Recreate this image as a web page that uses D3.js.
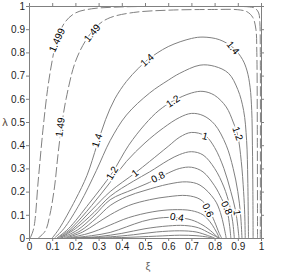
<!DOCTYPE html>
<html>
<head>
<meta charset="utf-8">
<script src="https://cdn.jsdelivr.net/npm/d3@7"></script>
<style>
  body { margin: 0; background: #fff; }
  text { font-family: "Liberation Sans", Arial, sans-serif; }
</style>
</head>
<body>
<svg id="chart" width="294" height="273"></svg>
<script>
// tick values of both axes
const xTicks = [0, 0.1, 0.2, 0.3, 0.4, 0.5, 0.6, 0.7, 0.8, 0.9, 1];
const yTicks = [0, 0.1, 0.2, 0.3, 0.4, 0.5, 0.6, 0.7, 0.8, 0.9, 1];

// contour levels, one traced line per level ([xi, lambda] pairs)
const levels = [0.1, 0.2, 0.3, 0.4, 0.5, 0.6, 0.7, 0.8, 0.9, 1, 1.1, 1.2, 1.3, 1.4, 1.49, 1.499];

const c010 = [[0.21,0],[0.4,0.002],[0.55,0.008],[0.65,0.012],[0.72,0.01],[0.77,0.004],[0.79,0]];
const c020 = [[0.2,0],[0.35,0.005],[0.45,0.014],[0.55,0.026],[0.65,0.031],[0.72,0.026],[0.77,0.011],[0.8,0]];
const c030 = [[0.19,0],[0.3,0.006],[0.4,0.02],[0.5,0.04],[0.6,0.052],[0.67,0.054],[0.73,0.044],[0.78,0.02],[0.81,0.004],[0.82,0]];
const c040 = [[0.18,0],[0.27,0.01],[0.35,0.024],[0.42,0.048],[0.49,0.072],[0.56,0.086],[0.638,0.088],[0.7,0.078],[0.75,0.055],[0.79,0.025],[0.81,0.006],[0.82,0]];
const c050 = [[0.17,0],[0.25,0.018],[0.3,0.035],[0.35,0.056],[0.43,0.088],[0.534,0.113],[0.62,0.122],[0.7,0.118],[0.75,0.1],[0.78,0.07],[0.8,0.04],[0.815,0.012],[0.82,0]];
const c060 = [[0.16,0],[0.23,0.025],[0.29,0.062],[0.35,0.1],[0.43,0.14],[0.52,0.165],[0.6,0.178],[0.68,0.183],[0.737,0.167],[0.772,0.13],[0.8,0.07],[0.82,0.02],[0.83,0]];
const c070 = [[0.15,0],[0.22,0.03],[0.29,0.085],[0.35,0.14],[0.42,0.178],[0.5,0.205],[0.6,0.232],[0.68,0.242],[0.737,0.228],[0.8,0.165],[0.825,0.11],[0.84,0.05],[0.85,0]];
const c080 = [[0.14,0],[0.21,0.035],[0.28,0.095],[0.35,0.165],[0.45,0.21],[0.52,0.24],[0.556,0.258],[0.6,0.28],[0.65,0.3],[0.7,0.305],[0.75,0.285],[0.8,0.225],[0.83,0.17],[0.853,0.12],[0.865,0.05],[0.87,0]];
const c090 = [[0.135,0],[0.2,0.04],[0.28,0.11],[0.35,0.18],[0.45,0.245],[0.52,0.285],[0.6,0.335],[0.65,0.36],[0.7,0.372],[0.75,0.358],[0.8,0.3],[0.84,0.22],[0.865,0.14],[0.878,0.07],[0.885,0]];
const c100 = [[0.13,0],[0.19,0.04],[0.27,0.12],[0.35,0.2],[0.457,0.28],[0.52,0.33],[0.6,0.395],[0.65,0.435],[0.7,0.455],[0.76,0.44],[0.8,0.39],[0.84,0.3],[0.87,0.2],[0.89,0.12],[0.9,0.05],[0.905,0]];
const c110 = [[0.125,0],[0.18,0.04],[0.27,0.14],[0.35,0.24],[0.42,0.33],[0.5,0.41],[0.58,0.475],[0.65,0.52],[0.7,0.537],[0.75,0.528],[0.8,0.49],[0.85,0.4],[0.88,0.3],[0.9,0.2],[0.912,0.1],[0.918,0]];
const c120 = [[0.12,0],[0.17,0.04],[0.26,0.15],[0.358,0.28],[0.43,0.4],[0.5,0.49],[0.56,0.55],[0.62,0.59],[0.7,0.625],[0.75,0.632],[0.8,0.615],[0.85,0.565],[0.88,0.5],[0.9,0.44],[0.915,0.33],[0.925,0.2],[0.93,0.1],[0.932,0]];
const c130 = [[0.11,0],[0.15,0.04],[0.22,0.15],[0.29,0.29],[0.35,0.42],[0.42,0.53],[0.52,0.625],[0.6,0.68],[0.65,0.71],[0.737,0.745],[0.8,0.74],[0.86,0.71],[0.9,0.64],[0.925,0.55],[0.938,0.42],[0.943,0.25],[0.946,0]];
const c140 = [[0.1,0],[0.13,0.04],[0.2,0.165],[0.25,0.27],[0.293,0.4],[0.33,0.51],[0.37,0.6],[0.42,0.675],[0.47,0.73],[0.51,0.767],[0.6,0.825],[0.7,0.86],[0.75,0.866],[0.82,0.855],[0.88,0.82],[0.92,0.77],[0.94,0.72],[0.953,0.65],[0.96,0.55],[0.963,0.4],[0.965,0.2],[0.966,0]];
const c149 = [[0.04,0],[0.07,0.03],[0.09,0.1],[0.11,0.22],[0.125,0.36],[0.14,0.48],[0.16,0.6],[0.2,0.76],[0.25,0.86],[0.3,0.92],[0.35,0.95],[0.45,0.972],[0.6,0.982],[0.8,0.985],[0.9,0.984],[0.94,0.975],[0.965,0.95],[0.978,0.9],[0.982,0.8],[0.984,0.5],[0.985,0]];
const c1499 = [[0.005,0],[0.02,0.04],[0.04,0.25],[0.06,0.465],[0.08,0.64],[0.1,0.765],[0.12,0.855],[0.155,0.93],[0.2,0.97],[0.27,0.988],[0.37,0.995],[0.5,0.998],[0.9,0.998],[0.95,0.996],[0.975,0.99],[0.99,0.97],[0.995,0.93],[0.997,0.8],[0.997,0]];

const lines = [c010, c020, c030, c040, c050, c060, c070, c080, c090, c100, c110, c120, c130, c140, c149, c1499];

// inline contour labels
const labelLevels = [1.499, 1.49, 1.49, 1.4, 1.4, 1.4, 1.2, 1.2, 1.2, 1, 1, 1, 0.8, 0.8, 0.6, 0.4];
const labelXi     = [0.12, 0.272, 0.134, 0.293, 0.509, 0.88, 0.358, 0.62, 0.9, 0.457, 0.759, 0.897, 0.556, 0.853, 0.772, 0.638];
const labelLambda = [0.853, 0.884, 0.478, 0.42, 0.767, 0.82, 0.28, 0.59, 0.45, 0.28, 0.44, 0.11, 0.263, 0.13, 0.12, 0.09];

const svg = d3.select("#chart");
const plotLeft = 29, plotRight = 261, plotTop = 6, plotBottom = 238;

const x = d3.scaleLinear().domain([0, 1]).range([plotLeft, plotRight]);
const y = d3.scaleLinear().domain([0, 1]).range([plotBottom, plotTop]);

svg.append("clipPath").attr("id", "plot")
  .append("rect").attr("x", plotLeft).attr("y", plotTop)
  .attr("width", plotRight - plotLeft).attr("height", plotBottom - plotTop);

const contourData = levels.map((lv, i) => ({ level: lv, pts: lines[i] }));

const lineGen = d3.line()
  .x(d => x(d[0]))
  .y(d => y(d[1]))
  .curve(d3.curveCatmullRom.alpha(0.5));

svg.append("g").attr("clip-path", "url(#plot)")
  .selectAll("path")
  .data(contourData)
  .join("path")
  .attr("d", d => lineGen(d.pts))
  .attr("fill", "none")
  .attr("stroke", "#808080")
  .attr("stroke-width", 1)
  .attr("stroke-dasharray", d => d.level > 1.45 ? "10,3" : null);

// axes
const fmt = d3.format("~g");
function styleAxis(g) {
  g.select(".domain").attr("stroke", "#808080");
  g.selectAll(".tick line").attr("stroke", "#808080");
  g.selectAll(".tick text").attr("fill", "#222").style("font-size", "10px");
}

svg.append("g").attr("transform", `translate(0,${plotBottom})`)
  .call(d3.axisBottom(x).tickValues(xTicks).tickFormat(fmt).tickSizeOuter(0).tickSize(3).tickPadding(2))
  .call(styleAxis);
svg.append("g").attr("transform", `translate(${plotLeft},0)`)
  .call(d3.axisLeft(y).tickValues(yTicks).tickFormat(fmt).tickSizeOuter(0).tickSize(3).tickPadding(1))
  .call(styleAxis);
svg.append("g").attr("transform", `translate(0,${plotTop})`)
  .call(d3.axisTop(x).tickValues(xTicks).tickFormat("").tickSizeOuter(0).tickSize(3))
  .call(styleAxis);
svg.append("g").attr("transform", `translate(${plotRight},0)`)
  .call(d3.axisRight(y).tickValues(yTicks).tickFormat("").tickSizeOuter(0).tickSize(3))
  .call(styleAxis);

// contour labels, rotated along the local direction of their line
function labelAngle(lv, px, py) {
  const pts = contourData.find(c => c.level === lv).pts.map(p => [x(p[0]), y(p[1])]);
  let best = 0, bestD = Infinity;
  for (let i = 0; i < pts.length - 1; i++) {
    const mx = (pts[i][0] + pts[i + 1][0]) / 2, my = (pts[i][1] + pts[i + 1][1]) / 2;
    const dd = (mx - px) ** 2 + (my - py) ** 2;
    if (dd < bestD) { bestD = dd; best = i; }
  }
  let a = Math.atan2(pts[best + 1][1] - pts[best][1], pts[best + 1][0] - pts[best][0]) * 180 / Math.PI;
  if (a > 90) a -= 180;
  if (a < -90) a += 180;
  return a;
}

svg.append("g")
  .selectAll("text")
  .data(labelLevels.map((lv, i) => ({ level: lv, xi: labelXi[i], lam: labelLambda[i] })))
  .join("text")
  .attr("transform", d => {
    const px = x(d.xi), py = y(d.lam);
    return `translate(${px},${py}) rotate(${labelAngle(d.level, px, py)})`;
  })
  .attr("text-anchor", "middle")
  .attr("dy", "0.35em")
  .style("font-size", "10px")
  .attr("fill", "#000")
  .attr("stroke", "#fff")
  .attr("stroke-width", 3)
  .attr("paint-order", "stroke")
  .text(d => fmt(d.level));

// axis titles
svg.append("text").attr("x", 5).attr("y", 126).attr("text-anchor", "middle")
  .style("font-size", "11px").attr("fill", "#5a4a3a").text("λ");
svg.append("text").attr("x", 148).attr("y", 270).attr("text-anchor", "middle")
  .style("font-size", "11px").attr("fill", "#666").text("ξ");
</script>
</body>
</html>
